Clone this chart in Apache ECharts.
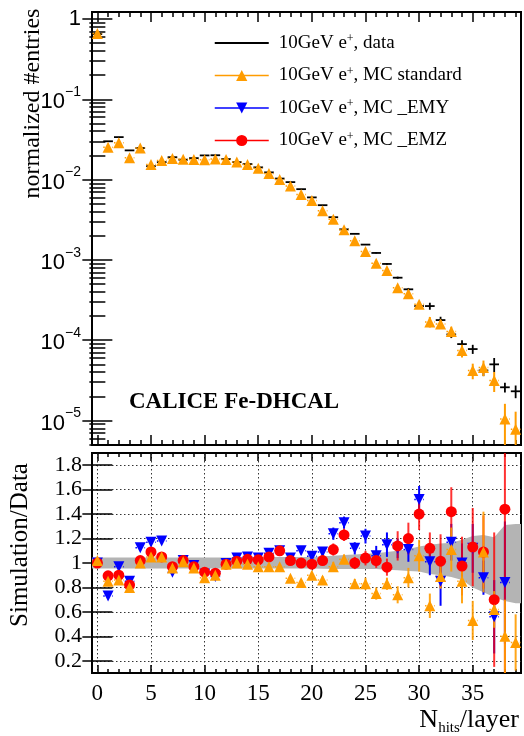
<!DOCTYPE html>
<html><head><meta charset="utf-8">
<script src="https://cdn.jsdelivr.net/npm/echarts@6/dist/echarts.min.js"></script>
<style>html,body{margin:0;padding:0;background:#fff}#c{width:524px;height:736px}</style>
</head><body><div id="c"></div>
<script>
// ---------------- data ----------------
const nHits = [0,1,2,3,4,5,6,7,8,9,10,11,12,13,14,15,16,17,18,19,20,21,22,23,24,25,26,27,28,29,30,31,32,33,34,35,36,37,38,39];

const dataEntries = [0.65,0.030,0.0338,0.0231,0.0247,0.0147,0.0165,0.0190,0.0177,0.0185,0.0200,0.0201,0.0180,0.0165,0.0156,0.0142,0.0123,0.0103,0.0093,0.0076,0.0060,0.0048,0.0034,0.0024,0.00211,0.00155,0.00122,0.00089,0.00060,0.00043,0.000266,0.000266,0.000178,0.000118,0.0000894,0.0000775,0.000042,0.0000500,0.0000259,0.0000231];
const dataRelErr = [0.005,0.005,0.005,0.005,0.005,0.005,0.005,0.005,0.005,0.005,0.005,0.005,0.005,0.005,0.005,0.005,0.005,0.005,0.005,0.005,0.005,0.005,0.005,0.005,0.005,0.01,0.015,0.02,0.03,0.04,0.05,0.1,0.1,0.1,0.12,0.13,0.15,0.2,0.14,0.18];

const mcStandard = [0.66,0.0253,0.0288,0.0187,0.0247,0.0154,0.0173,0.0183,0.0179,0.0178,0.0176,0.0181,0.0178,0.0165,0.0154,0.0138,0.0119,0.0100,0.0083,0.0065,0.0055,0.0041,0.0032,0.00237,0.00173,0.00127,0.00091,0.00074,0.00045,0.00038,0.00028,0.000169,0.000159,0.000128,0.0000742,0.0000418,0.0000457,0.0000314,0.0000104,0.0000078];
const mcStandardRelErr = [0.005,0.005,0.005,0.005,0.005,0.005,0.005,0.005,0.005,0.005,0.005,0.005,0.005,0.005,0.005,0.005,0.005,0.005,0.005,0.005,0.005,0.005,0.005,0.005,0.005,0.02,0.03,0.03,0.05,0.06,0.08,0.15,0.12,0.15,0.18,0.22,0.22,0.28,0.55,0.65];

const ratioStandard = [1.02,0.85,0.86,0.80,1.00,1.05,1.05,0.96,1.01,0.96,0.88,0.90,0.99,1.00,0.99,0.97,0.97,0.97,0.875,0.84,0.90,0.86,0.97,1.03,0.83,0.83,0.75,0.83,0.74,0.88,1.06,0.65,0.89,1.11,0.85,0.53,1.09,0.62,0.40,0.35];
const ratioStandardErr = [0.02,0.02,0.02,0.02,0.02,0.02,0.02,0.02,0.02,0.02,0.02,0.02,0.02,0.02,0.02,0.02,0.02,0.02,0.02,0.02,0.03,0.03,0.04,0.04,0.04,0.05,0.05,0.05,0.07,0.08,0.13,0.1,0.1,0.18,0.18,0.16,0.33,0.15,0.3,0.23];

const ratioEMY = [1.0,0.73,0.97,0.85,1.125,1.17,1.18,0.925,1.02,0.98,0.91,0.89,0.995,1.04,1.05,1.04,1.08,1.10,1.04,1.10,1.055,1.09,1.24,1.33,1.12,1.22,1.06,1.15,1.12,1.11,1.52,1.01,0.85,1.17,1.0,1.12,0.88,0.56,0.84,null];
const ratioEMYErr = [0.02,0.02,0.02,0.02,0.02,0.02,0.02,0.02,0.02,0.02,0.02,0.02,0.02,0.02,0.02,0.02,0.03,0.03,0.03,0.03,0.03,0.03,0.05,0.05,0.05,0.06,0.08,0.1,0.08,0.1,0.11,0.11,0.2,0.15,0.16,0.2,0.14,0.3,0.5,null];

const ratioEMZ = [1.0,0.895,0.90,0.82,1.02,1.09,1.05,0.97,1.02,0.97,0.925,0.917,0.99,1.015,1.03,1.026,1.05,1.10,1.02,1.0,0.99,1.02,1.11,1.23,1.0,1.04,1.02,0.966,1.14,1.20,1.40,1.12,1.015,1.42,0.975,1.13,1.09,0.70,1.44,null];
const ratioEMZErr = [0.02,0.02,0.02,0.02,0.02,0.02,0.02,0.02,0.02,0.02,0.02,0.02,0.02,0.02,0.02,0.02,0.03,0.03,0.03,0.03,0.03,0.04,0.05,0.05,0.05,0.06,0.06,0.07,0.12,0.13,0.13,0.13,0.22,0.2,0.24,0.32,0.3,0.55,1.4,null];

const bandHigh = [1.045,1.045,1.045,1.045,1.045,1.045,1.045,1.045,1.045,1.045,1.045,1.045,1.045,1.045,1.045,1.05,1.05,1.05,1.05,1.05,1.05,1.055,1.06,1.065,1.07,1.075,1.08,1.09,1.10,1.115,1.135,1.15,1.16,1.165,1.19,1.22,1.23,1.21,1.31,1.32];
const bandLow  = [0.955,0.955,0.955,0.955,0.955,0.955,0.955,0.955,0.955,0.955,0.955,0.955,0.955,0.955,0.955,0.955,0.955,0.955,0.955,0.955,0.955,0.953,0.95,0.95,0.95,0.95,0.95,0.945,0.94,0.935,0.93,0.91,0.90,0.885,0.86,0.80,0.76,0.72,0.69,0.67];

const xMajorTicks = [0,5,10,15,20,25,30,35];
const xLabelValues = [0,5,10,15,20,25,30,35];
const logMajorTicks = [1e-5,1e-4,1e-3,1e-2,1e-1,1];
const ratioTicks = [0.2,0.4,0.6,0.8,1,1.2,1.4,1.6,1.8];

const NAME_DATA = '10GeV e+, data';
const NAME_STD = '10GeV e+, MC standard';
const NAME_EMY = '10GeV e+, MC _EMY';
const NAME_EMZ = '10GeV e+, MC _EMZ';

// ---------------- style ----------------
const SERIF = 'Liberation Serif';
const SANS = 'Liberation Sans';
const ORANGE = '#ff9c00', BLUE = '#0000ff', RED = '#ff0000';
const X_MIN = -0.5, X_MAX = 39.5;
const TOP_MIN = 4.95e-6, TOP_MAX = 1.222;
const R_MIN = 0.1, R_MAX = 1.9;
const HALF = 0.45;

const serifRich = (size, extra) => Object.assign({fontFamily: SERIF, fontSize: size, color: '#000'}, extra || {});

const xMinorTicks = nHits.slice();
const logMinorTicks = [];
for (let e = -6; e <= 0; e++) for (let k = 2; k <= 9; k++) {
  const v = k * Math.pow(10, e);
  if (v > TOP_MIN && v < TOP_MAX) logMinorTicks.push(v);
}

function decoX(grid, pos, ticks, len, extra) {
  return Object.assign({
    type: 'value', gridIndex: grid, position: pos, min: X_MIN, max: X_MAX,
    axisLine: {show: false},
    axisTick: {show: true, inside: true, length: len, customValues: ticks, lineStyle: {color: '#000', width: 1.5}},
    axisLabel: {show: false}, splitLine: {show: false}
  }, extra || {});
}
function decoY(grid, pos, type, min, max, ticks, len, extra) {
  const o = {
    type: type, gridIndex: grid, position: pos, min: min, max: max,
    axisLine: {show: false},
    axisTick: {show: true, inside: true, length: len, customValues: ticks, lineStyle: {color: '#000', width: 1.5}},
    axisLabel: {show: false}, splitLine: {show: false}
  };
  if (type === 'log') o.logBase = 10;
  return Object.assign(o, extra || {});
}

const dottedGrid = {show: true, lineStyle: {color: '#333', width: 1, type: [1.5, 2.5]}};

const xAxes = [
  decoX(0, 'bottom', xMajorTicks, 10),
  decoX(0, 'bottom', xMinorTicks, 5),
  decoX(0, 'top', xMajorTicks, 10),
  decoX(0, 'top', xMinorTicks, 5),
  decoX(1, 'bottom', xMajorTicks, 8, {
    axisLabel: {show: true, customValues: xLabelValues, margin: 9,
      formatter: v => '{a|' + v + '}', rich: {a: serifRich(23)}},
    splitLine: dottedGrid,
    name: '{n|N}{sub|hits}{n|/layer}', nameLocation: 'end', nameGap: -2, nameMoveOverlap: false,
    nameTextStyle: {align: 'right', verticalAlign: 'top', padding: [34, 0, 0, 0],
      rich: {n: serifRich(26, {verticalAlign: 'top'}),
             sub: serifRich(15, {verticalAlign: 'bottom', padding: [14, 0, 0, 0]})}}
  }),
  decoX(1, 'bottom', xMinorTicks, 4),
  decoX(1, 'top', xMajorTicks, 8),
  decoX(1, 'top', xMinorTicks, 4)
];

const yAxes = [
  decoY(0, 'left', 'log', TOP_MIN, TOP_MAX, logMajorTicks, 15, {
    axisLabel: {show: true, customValues: logMajorTicks, margin: 11,
      formatter: function (v) {
        const e = Math.round(Math.log10(v));
        return e === 0 ? '{b|1}' : '{b|10}{s|\u2212' + (-e) + '}';
      },
      rich: {b: {fontFamily: SANS, fontSize: 22, color: '#000', verticalAlign: 'bottom'},
             s: {fontFamily: SANS, fontSize: 14, color: '#000', verticalAlign: 'top', padding: [0, 0, 14, 0]}}},
    name: '{t|normalized #entries}', nameLocation: 'middle', nameGap: 47, nameMoveOverlap: false,
    nameTextStyle: {padding: [0, 0, 0, 250], rich: {t: serifRich(24)}}
  }),
  decoY(0, 'left', 'log', TOP_MIN, TOP_MAX, logMinorTicks, 8),
  decoY(0, 'right', 'log', TOP_MIN, TOP_MAX, logMajorTicks, 15),
  decoY(0, 'right', 'log', TOP_MIN, TOP_MAX, logMinorTicks, 8),
  decoY(1, 'left', 'value', R_MIN, R_MAX, ratioTicks, 15, {
    axisLabel: {show: true, customValues: ratioTicks, margin: 10,
      formatter: v => '{a|' + v + '}', rich: {a: serifRich(22)}},
    splitLine: dottedGrid,
    name: '{t|Simulation/Data}', nameLocation: 'middle', nameGap: 59, nameMoveOverlap: false,
    nameTextStyle: {padding: [0, 0, 0, 36], rich: {t: serifRich(25)}}
  }),
  decoY(1, 'right', 'value', R_MIN, R_MAX, ratioTicks, 15)
];

function line(a, b, color, width, dash, opacity) {
  return {type: 'line', shape: {x1: a[0], y1: a[1], x2: b[0], y2: b[1]},
    style: {stroke: color, lineWidth: width, lineDash: dash || null, opacity: opacity == null ? 1 : opacity}};
}

function errData(xs, vals, errs, absolute) {
  const out = [];
  for (let i = 0; i < xs.length; i++) {
    if (vals[i] == null) continue;
    const e = absolute ? errs[i] : vals[i] * errs[i];
    out.push([xs[i], vals[i], Math.max(vals[i] - e, 1e-9), vals[i] + e]);
  }
  return out;
}

function errSeries(name, gridIdx, data, color, opts) {
  opts = opts || {};
  return {
    type: 'custom', name: name, xAxisIndex: gridIdx === 0 ? 0 : 4, yAxisIndex: gridIdx === 0 ? 0 : 4,
    clip: true, z: opts.z || 3, silent: true, itemStyle: {color: color},
    encode: {x: 0, y: 1},
    data: data,
    renderItem: function (params, api) {
      const x = api.value(0), y = api.value(1), lo = api.value(2), hi = api.value(3);
      const a = api.coord([x - HALF, y]), b = api.coord([x + HALF, y]);
      const c = api.coord([x, lo]), d = api.coord([x, hi]);
      return {type: 'group', children: [
        line(a, b, color, opts.hWidth || 1.5, opts.hDash, opts.opacity),
        line(c, d, color, opts.vWidth || 2, null, opts.opacity)
      ]};
    }
  };
}

function markerSeries(name, gridIdx, xs, vals, color, symbol, rotate, z) {
  return {
    type: 'line', name: name, xAxisIndex: gridIdx === 0 ? 0 : 4, yAxisIndex: gridIdx === 0 ? 0 : 4,
    z: z, silent: true, color: color,
    data: xs.map((x, i) => [x, vals[i]]),
    symbol: symbol, symbolSize: 11, symbolRotate: rotate || 0,
    showSymbol: true, connectNulls: false,
    itemStyle: {color: color, borderWidth: 0, opacity: 1},
    lineStyle: {opacity: 0, width: 0},
    emphasis: {disabled: true}
  };
}

const bandSeries = {
  type: 'custom', name: 'data uncertainty', xAxisIndex: 4, yAxisIndex: 4, clip: true, z: 1, silent: true,
  data: [[0, 1]], encode: {x: 0, y: 1},
  renderItem: function (params, api) {
    const pts = [];
    pts.push(api.coord([X_MIN, bandHigh[0]]));
    for (let i = 0; i < nHits.length; i++) pts.push(api.coord([nHits[i], bandHigh[i]]));
    pts.push(api.coord([X_MAX, bandHigh[nHits.length - 1]]));
    pts.push(api.coord([X_MAX, bandLow[nHits.length - 1]]));
    for (let i = nHits.length - 1; i >= 0; i--) pts.push(api.coord([nHits[i], bandLow[i]]));
    pts.push(api.coord([X_MIN, bandLow[0]]));
    return {type: 'polygon', shape: {points: pts}, style: {fill: '#b4b4b4', stroke: null}};
  }
};

const series = [
  // top panel
  errSeries(NAME_DATA, 0, errData(nHits, dataEntries, dataRelErr, false), '#000', {z: 3, hWidth: 1.8, vWidth: 1.8}),
  markerSeries(NAME_STD, 0, nHits, mcStandard, ORANGE, 'triangle', 0, 5),
  errSeries(NAME_STD, 0, errData(nHits, mcStandard, mcStandardRelErr, false), ORANGE, {z: 4, hDash: [1.5, 3]}),
  // bottom panel
  bandSeries,
  markerSeries(NAME_EMY, 1, nHits, ratioEMY, BLUE, 'triangle', 180, 6),
  errSeries(NAME_EMY, 1, errData(nHits, ratioEMY, ratioEMYErr, true), BLUE, {z: 3, hDash: [1.5, 3]}),
  markerSeries(NAME_EMZ, 1, nHits, ratioEMZ, RED, 'circle', 0, 7),
  errSeries(NAME_EMZ, 1, errData(nHits, ratioEMZ, ratioEMZErr, true), RED, {z: 3, hDash: [1.5, 3], opacity: 0.8}),
  markerSeries(NAME_STD, 1, nHits, ratioStandard, ORANGE, 'triangle', 0, 8),
  errSeries(NAME_STD, 1, errData(nHits, ratioStandard, ratioStandardErr, true), ORANGE, {z: 3, hDash: [1.5, 3], opacity: 0.9})
];

const option = {
  animation: false,
  backgroundColor: '#fff',
  textStyle: {fontFamily: SERIF},
  title: {text: '{t|CALICE Fe-DHCAL}', left: 129, top: 391, padding: 0,
    textStyle: {rich: {t: serifRich(23, {fontWeight: 'bold'})}}},
  legend: {
    orient: 'vertical', left: 214, top: 33, padding: 0, itemWidth: 54, itemHeight: 14, itemGap: 12.5,
    selectedMode: false,
    formatter: function (name) { return '{g|}' + name.replace('e+', 'e{sup|+}'); },
    textStyle: {fontFamily: SERIF, fontSize: 19, color: '#000', lineHeight: 20,
      rich: {g: {width: 5}, sup: serifRich(12, {verticalAlign: 'top', padding: [0, 0, 8, 0]})}},
    data: [
      {name: NAME_DATA, icon: 'path://M0,0H60V2H0Z', itemStyle: {color: '#000'}},
      {name: NAME_STD, lineStyle: {opacity: 1, width: 1.5, color: ORANGE}, itemStyle: {color: ORANGE}},
      {name: NAME_EMY, lineStyle: {opacity: 1, width: 1.5, color: BLUE}, itemStyle: {color: BLUE}},
      {name: NAME_EMZ, lineStyle: {opacity: 1, width: 1.5, color: RED}, itemStyle: {color: RED}}
    ]
  },
  grid: [
    {left: 92, right: 3, top: 12, height: 433, show: true, borderColor: '#000', borderWidth: 2, backgroundColor: 'transparent', containLabel: false, outerBoundsMode: 'none'},
    {left: 92, right: 3, top: 453, height: 220, show: true, borderColor: '#000', borderWidth: 2, backgroundColor: 'transparent', containLabel: false, outerBoundsMode: 'none'}
  ],
  xAxis: xAxes,
  yAxis: yAxes,
  series: series
};

const chart = echarts.init(document.getElementById('c'), null, {renderer: 'canvas'});
chart.setOption(option);
</script>
</body></html>
